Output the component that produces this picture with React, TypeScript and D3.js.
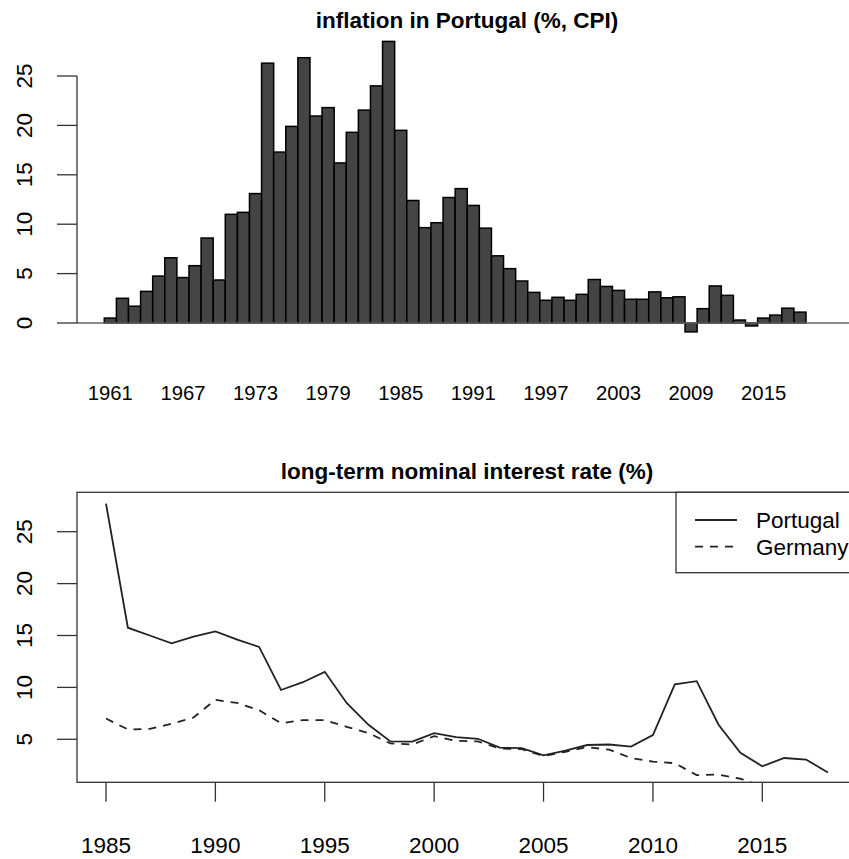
import React from "react";
import * as d3 from "d3";

// inflation in Portugal (%, CPI), one bar per year
const inflationYears = d3.range(1961, 2019);
const inflationValues = [
  0.5, 2.5, 1.7, 3.2, 4.75, 6.6, 4.6, 5.8, 8.6, 4.35,
  11.0, 11.2, 13.1, 26.3, 17.3, 19.9, 26.85, 20.95, 21.8, 16.2,
  19.3, 21.55, 24.0, 28.5, 19.5, 12.4, 9.65, 10.15, 12.7, 13.6,
  11.9, 9.6, 6.8, 5.5, 4.25, 3.1, 2.3, 2.6, 2.3, 2.9,
  4.4, 3.7, 3.3, 2.4, 2.4, 3.15, 2.55, 2.65, -0.9, 1.45,
  3.75, 2.8, 0.3, -0.3, 0.5, 0.8, 1.5, 1.1,
];
const inflationLabelYears = [1961, 1967, 1973, 1979, 1985, 1991, 1997, 2003, 2009, 2015];
const inflationTicks = [0, 5, 10, 15, 20, 25];

// long-term nominal interest rate (%)
const rateYears = d3.range(1985, 2019);
const portugalRates = [
  27.7, 15.75, 15.0, 14.25, 14.9, 15.4, 14.6, 13.9, 9.75, 10.5,
  11.5, 8.5, 6.4, 4.8, 4.78, 5.6, 5.2, 5.05, 4.2, 4.15,
  3.45, 3.9, 4.45, 4.5, 4.3, 5.4, 10.3, 10.6, 6.4, 3.7,
  2.4, 3.2, 3.05, 1.8,
];
const germanyRates = [
  7.0, 5.95, 6.0, 6.5, 7.1, 8.8, 8.5, 7.8, 6.55, 6.85,
  6.85, 6.2, 5.6, 4.6, 4.5, 5.3, 4.85, 4.8, 4.1, 4.05,
  3.4, 3.8, 4.25, 4.0, 3.2, 2.85, 2.7, 1.55, 1.6, 1.2,
  0.5, 0.1, 0.3, 0.4,
];
const rateXTicks = [1985, 1990, 1995, 2000, 2005, 2010, 2015];
const rateYTicks = [5, 10, 15, 20, 25];
const legendItems = [
  { name: "Portugal", dash: null },
  { name: "Germany", dash: "8 7" },
];

const font = "'Liberation Sans', Arial, Helvetica, sans-serif";

const InflationChart = () => {
  const x = d3.scaleBand().domain(inflationYears).range([104.3, 806]).padding(0);
  const y = d3.scaleLinear().domain([0, 25]).range([323, 76]);

  return (
    <g>
      <text x={467} y={28} textAnchor="middle" fontWeight="bold" fontSize={22.5}>
        inflation in Portugal (%, CPI)
      </text>

      {/* bars */}
      {inflationYears.map((yr, i) => {
        const v = inflationValues[i];
        return (
          <rect
            key={yr}
            x={x(yr)}
            y={y(Math.max(0, v))}
            width={x.bandwidth()}
            height={Math.abs(y(v) - y(0))}
            fill="#444"
            stroke="#000"
            strokeWidth={1.5}
          />
        );
      })}

      {/* zero line */}
      <line x1={77} x2={857} y1={y(0)} y2={y(0)} stroke="#666" strokeWidth={1.3} />

      {/* y axis */}
      <line x1={77} x2={77} y1={y(0)} y2={y(25)} stroke="#333" strokeWidth={1.3} />
      {inflationTicks.map((t) => (
        <g key={t}>
          <line x1={57} x2={77} y1={y(t)} y2={y(t)} stroke="#333" strokeWidth={1.3} />
          <text
            transform={`translate(32, ${y(t)}) rotate(-90)`}
            textAnchor="middle"
            fontSize={22.5}
          >
            {t}
          </text>
        </g>
      ))}

      {/* year labels */}
      {inflationLabelYears.map((yr) => (
        <text key={yr} x={x(yr) + x.bandwidth() / 2} y={400} textAnchor="middle" fontSize={20.3}>
          {yr}
        </text>
      ))}
    </g>
  );
};

const RateChart = () => {
  const left = 77;
  const right = 857;
  const top = 492.3;
  const bottom = 782.3;
  const x = d3.scaleLinear().domain([1985, 2015]).range([106, 762.3]);
  const y = d3.scaleLinear().domain([5, 25]).range([739.3, 531.7]);

  const line = d3
    .line()
    .x((d) => x(d[0]))
    .y((d) => y(d[1]));

  const pt = rateYears.map((yr, i) => [yr, portugalRates[i]]);
  const de = rateYears.map((yr, i) => [yr, germanyRates[i]]);

  return (
    <g>
      <text x={467} y={479} textAnchor="middle" fontWeight="bold" fontSize={22.5}>
        long-term nominal interest rate (%)
      </text>

      <defs>
        <clipPath id="rate-clip">
          <rect x={left} y={top} width={right - left} height={bottom - top} />
        </clipPath>
      </defs>

      <g clipPath="url(#rate-clip)" fill="none" stroke="#222" strokeWidth={1.8}>
        <path d={line(pt)} />
        <path d={line(de)} strokeDasharray="8 7" />
      </g>

      {/* box */}
      <rect x={left} y={top} width={right - left} height={bottom - top} fill="none" stroke="#333" strokeWidth={1.3} />

      {/* x axis */}
      {rateXTicks.map((t) => (
        <g key={t}>
          <line x1={x(t)} x2={x(t)} y1={bottom} y2={801.7} stroke="#333" strokeWidth={1.3} />
          <text x={x(t)} y={853} textAnchor="middle" fontSize={22.5}>
            {t}
          </text>
        </g>
      ))}

      {/* y axis */}
      {rateYTicks.map((t) => (
        <g key={t}>
          <line x1={57} x2={left} y1={y(t)} y2={y(t)} stroke="#333" strokeWidth={1.3} />
          <text
            transform={`translate(32, ${y(t)}) rotate(-90)`}
            textAnchor="middle"
            fontSize={22.5}
          >
            {t}
          </text>
        </g>
      ))}

      {/* legend */}
      <rect x={676} y={top} width={200} height={572.7 - top} fill="#fff" stroke="#333" strokeWidth={1.3} />
      {legendItems.map((d, i) => {
        const ly = 520 + i * 26.7;
        return (
          <g key={d.name}>
            <line
              x1={695}
              x2={737}
              y1={ly}
              y2={ly}
              stroke="#222"
              strokeWidth={1.8}
              strokeDasharray={d.dash || undefined}
            />
            <text x={756} y={ly + 8} fontSize={22.5}>
              {d.name}
            </text>
          </g>
        );
      })}
    </g>
  );
};

export default function App() {
  return (
    <svg
      width={849}
      height={859}
      style={{ position: "absolute", left: 0, top: 0, background: "#fff" }}
      fontFamily={font}
    >
      <InflationChart />
      <RateChart />
    </svg>
  );
}
